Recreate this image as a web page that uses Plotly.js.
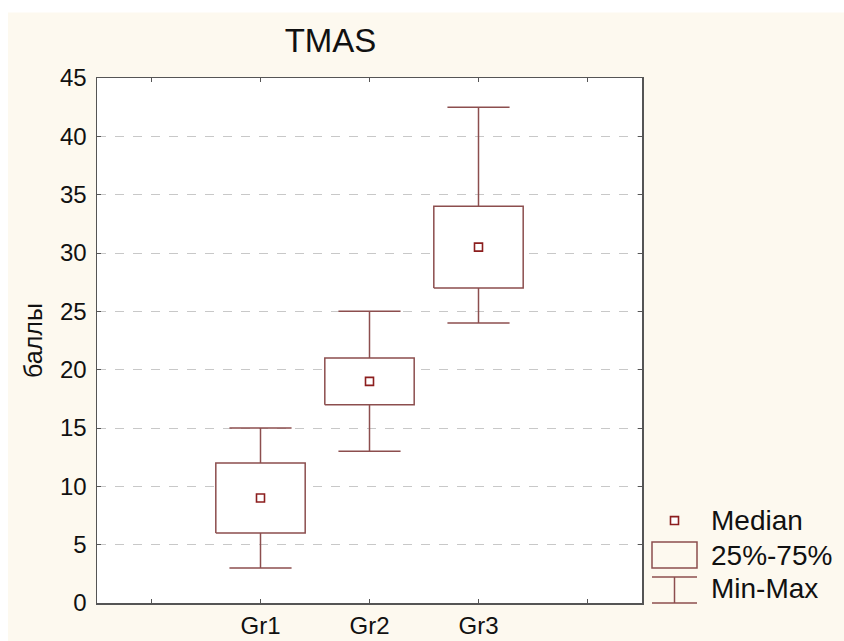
<!DOCTYPE html>
<html>
<head>
<meta charset="utf-8">
<script src="https://cdn.plot.ly/plotly-3.0.1.min.js"></script>
<style>html,body{margin:0;padding:0;background:#fdf9ef;overflow:hidden;}#chart{width:844px;height:641px;}</style>
</head>
<body>
<div id="chart"></div>
<script>
// ---- data ----
var categories = ['Gr1', 'Gr2', 'Gr3'];
var minVals    = [3, 13, 24];
var q1Vals     = [6, 17, 27];
var medianVals = [9, 19, 30.5];
var q3Vals     = [12, 21, 34];
var maxVals    = [15, 25, 42.5];
var tickValsX  = [0, 1, 2, 3, 4];
var tickTextX  = ['', 'Gr1', 'Gr2', 'Gr3', ''];
var tickValsY  = [0, 5, 10, 15, 20, 25, 30, 35, 40, 45];
var legendLabels = ['Median', '25%-75%', 'Min-Max'];

// ---- style ----
var boxColor = 'rgb(140,78,78)';
var medColor = 'rgb(140,30,30)';
var halfBox = 0.41, halfCap = 0.285;
var FONT = 'Liberation Sans, Arial, sans-serif';

var L = 97, R = 202, T = 77.5, B = 38, W = 844, H = 641;
var pw = W - L - R, ph = H - T - B;
function px2x(px){ return (px - L) / pw; }
function px2y(py){ return (H - B - py) / ph; }

var traces = [];
categories.forEach(function(c, i){
  var xc = i + 1;
  // whiskers
  traces.push({
    type: 'scatter', mode: 'lines', showlegend: false, hoverinfo: 'skip',
    x: [xc, xc, null, xc - halfCap, xc + halfCap, null, xc, xc, null, xc - halfCap, xc + halfCap],
    y: [q3Vals[i], maxVals[i], null, maxVals[i], maxVals[i], null, q1Vals[i], minVals[i], null, minVals[i], minVals[i]],
    line: {color: boxColor, width: 1.5}
  });
  // box
  traces.push({
    type: 'scatter', mode: 'lines', showlegend: false, fill: 'toself', fillcolor: 'white',
    x: [xc - halfBox, xc + halfBox, xc + halfBox, xc - halfBox, xc - halfBox],
    y: [q1Vals[i], q1Vals[i], q3Vals[i], q3Vals[i], q1Vals[i]],
    line: {color: boxColor, width: 1.5}, name: categories[i]
  });
});
traces.push({
  type: 'scatter', mode: 'markers', showlegend: false,
  x: categories.map(function(c, i){ return i + 1; }), y: medianVals,
  marker: {symbol: 'square', size: 8, color: 'white', line: {color: medColor, width: 1.6}}
});

// custom legend (outside plot area)
var shapes = [
  {type:'rect', xref:'paper', yref:'paper', x0:px2x(0), x1:px2x(844), y0:px2y(12), y1:px2y(-2), fillcolor:'white', line:{width:0}, layer:'below'},
  {type:'rect', xref:'paper', yref:'paper', x0:px2x(-2), x1:px2x(8), y0:px2y(641), y1:px2y(0), fillcolor:'white', line:{width:0}, layer:'below'},
  {type:'rect', xref:'paper', yref:'paper', x0:px2x(670.5), x1:px2x(678.5), y0:px2y(524.5), y1:px2y(516.5), fillcolor:'white', line:{color:medColor, width:1.6}},
  {type:'rect', xref:'paper', yref:'paper', x0:px2x(652), x1:px2x(697), y0:px2y(568), y1:px2y(542), line:{color:boxColor, width:1.5}},
  {type:'line', xref:'paper', yref:'paper', x0:px2x(652), x1:px2x(697), y0:px2y(577), y1:px2y(577), line:{color:boxColor, width:1.5}},
  {type:'line', xref:'paper', yref:'paper', x0:px2x(674.5), x1:px2x(674.5), y0:px2y(577), y1:px2y(603), line:{color:boxColor, width:1.5}},
  {type:'line', xref:'paper', yref:'paper', x0:px2x(652), x1:px2x(697), y0:px2y(603), y1:px2y(603), line:{color:boxColor, width:1.5}}
];
var legendY = [520.5, 555.5, 588.5];
var annotations = legendLabels.map(function(t, i){
  return {xref:'paper', yref:'paper', x:px2x(709), y:px2y(legendY[i]), xanchor:'left', yanchor:'middle',
          text:t, showarrow:false, font:{family:FONT, size:28, color:'#111'}};
});

var layout = {
  width: W, height: H,
  margin: {l: L, r: R, t: T, b: B},
  paper_bgcolor: '#fdf9ef', plot_bgcolor: 'white',
  showlegend: false,
  font: {family: FONT, color: '#111'},
  title: {text: 'TMAS', x: 330.5 / W, xanchor: 'center', xref: 'container',
          y: 1 - 40.5 / H, yanchor: 'middle', yref: 'container', font: {family: FONT, size: 33, color: '#111'}},
  xaxis: {range: [-0.5, 4.5], tickvals: tickValsX, ticktext: tickTextX, showgrid: false, zeroline: false,
          showline: true, linecolor: '#555', linewidth: 1.5, mirror: 'ticks', ticks: 'inside', ticklen: 4,
          tickcolor: '#555', tickfont: {family: FONT, size: 24, color: '#111'}, ticklabelstandoff: 1},
  yaxis: {range: [0, 45], tickvals: tickValsY, showgrid: true, gridcolor: '#c8c8c8', griddash: 'dash', gridwidth: 1,
          zeroline: false, showline: true, linecolor: '#555', linewidth: 1.5, mirror: 'ticks', ticks: 'inside',
          ticklen: 4, tickcolor: '#555', tickfont: {family: FONT, size: 24, color: '#111'}, ticklabelstandoff: 4,
          title: {text: 'баллы', font: {family: FONT, size: 25, color: '#111'}, standoff: 10}},
  shapes: shapes,
  annotations: annotations
};

Plotly.newPlot('chart', traces, layout, {displayModeBar: false, staticPlot: true});
</script>
</body>
</html>
